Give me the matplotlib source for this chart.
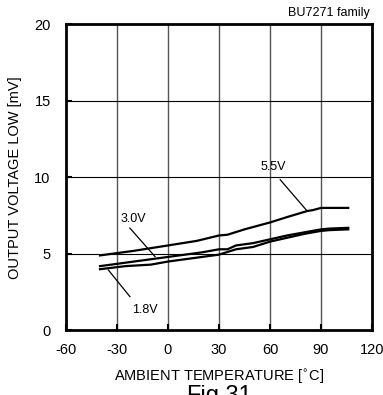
import matplotlib
matplotlib.use('Agg')
import matplotlib.pyplot as plt

plt.rcParams['font.family'] = ['Liberation Sans', 'DejaVu Sans']
plt.rcParams['axes.unicode_minus'] = False

# ambient temperature [C] and output voltage low [mV] per supply voltage
temp_55 = [-40, -20, 0, 17, 30, 35, 45, 60, 70, 82, 85, 90, 106]
vol_55 = [4.9, 5.2, 5.55, 5.85, 6.2, 6.25, 6.6, 7.05, 7.4, 7.8, 7.85, 8.0, 8.0]
temp_30 = [-40, -20, 0, 20, 30, 35, 40, 50, 60, 70, 80, 90, 95, 106]
vol_30 = [4.2, 4.5, 4.8, 5.1, 5.3, 5.3, 5.55, 5.7, 5.95, 6.2, 6.4, 6.6, 6.65, 6.7]
temp_18 = [-40, -25, -10, 0, 20, 30, 40, 50, 60, 70, 80, 90, 95, 106]
vol_18 = [4.0, 4.2, 4.3, 4.5, 4.8, 4.95, 5.3, 5.45, 5.8, 6.05, 6.3, 6.5, 6.55, 6.6]

x_ticks = [-60, -30, 0, 30, 60, 90, 120]
y_ticks = [0, 5, 10, 15, 20]

fig = plt.figure(figsize=(3.83, 3.95), dpi=100)
ax = fig.add_axes([0.1723, 0.1633, 0.7990, 0.7759])

for x in x_ticks[1:-1]:
    ax.axvline(x, color='#555555', lw=1.0, zorder=1)
for y in y_ticks[1:-1]:
    ax.axhline(y, color='black', lw=0.8, zorder=1)

ax.plot(temp_55, vol_55, color='black', lw=1.6, zorder=3)
ax.plot(temp_30, vol_30, color='black', lw=1.6, zorder=3)
ax.plot(temp_18, vol_18, color='black', lw=1.6, zorder=3)

ax.text(62, 10.7, '5.5V', fontsize=9, ha='center', va='center')
ax.plot([66, 81.6], [9.84, 7.83], color='black', lw=0.9)
ax.text(-20.5, 7.3, '3.0V', fontsize=9, ha='center', va='center')
ax.plot([-22.4, -7.6], [6.68, 4.82], color='black', lw=0.9)
ax.text(-13.5, 1.34, '1.8V', fontsize=9, ha='center', va='center')
ax.plot([-35.1, -22.4], [3.95, 2.21], color='black', lw=0.9)

ax.set_xlim(-60, 120)
ax.set_ylim(0, 20)
ax.set_xticks(x_ticks)
ax.set_yticks(y_ticks)
ax.tick_params(direction='in', length=4, width=1.5, labelsize=10.5)
ax.tick_params(axis='x', pad=9)
ax.tick_params(axis='y', pad=11)
for s in ax.spines.values():
    s.set_linewidth(2)

ax.set_xlabel('AMBIENT TEMPERATURE [$^{\\circ}$C]', fontsize=10.5, labelpad=8)
ax.set_ylabel('OUTPUT VOLTAGE LOW [mV]', fontsize=10.5, labelpad=9)

fig.text(0.966, 0.968, 'BU7271 family', fontsize=9, ha='right', va='center')
fig.text(0.572, 0.026, 'Fig.31', fontsize=17, ha='center', va='top')

fig.savefig('out.png', dpi=100)
